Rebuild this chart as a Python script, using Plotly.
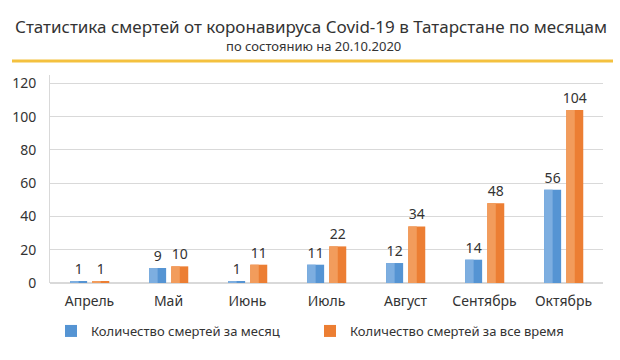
import plotly.graph_objects as go

months = ["Апрель", "Май", "Июнь", "Июль", "Август", "Сентябрь", "Октябрь"]
monthly = [1, 9, 1, 11, 12, 14, 56]
total = [1, 10, 11, 22, 34, 48, 104]
y_ticks = [0, 20, 40, 60, 80, 100, 120]

name_monthly = "Количество смертей за месяц"
name_total = "Количество смертей за все время"

FONT = "Noto Sans"
W = 0.215
half = W / 2

fig = go.Figure()
# full bars (dark) with labels
fig.add_trace(go.Bar(x=months, y=monthly, name=name_monthly, width=W, offset=-0.245,
                     marker=dict(color="#5594D3", line=dict(width=0)),
                     text=monthly, textposition="outside", cliponaxis=False, constraintext="none",
                     textfont=dict(size=14, color="#333333", family=FONT)))
fig.add_trace(go.Bar(x=months, y=total, name=name_total, width=W, offset=0.035,
                     marker=dict(color="#EC7E33", line=dict(width=0)),
                     text=total, textposition="outside", cliponaxis=False, constraintext="none",
                     textfont=dict(size=14, color="#333333", family=FONT)))
# lighter left halves
fig.add_trace(go.Bar(x=months, y=monthly, width=half, offset=-0.245, showlegend=False,
                     marker=dict(color="#7DAEE0", line=dict(width=0)), hoverinfo="skip"))
fig.add_trace(go.Bar(x=months, y=total, width=half, offset=0.035, showlegend=False,
                     marker=dict(color="#F29C5C", line=dict(width=0)), hoverinfo="skip"))

L, R, T, B = 50, 17, 75, 77
ph = 360 - T - B
pw = 620 - L - R

def py(px):
    return (360 - B - px) / ph

def pxx(px):
    return (px - L) / pw

fig.add_shape(type="line", xref="paper", yref="paper", x0=pxx(12), x1=pxx(613),
              y0=py(61), y1=py(61), line=dict(color="#F4C13F", width=3))
fig.add_annotation(text="Статистика смертей от коронавируса Covid-19 в Татарстане по месяцам",
                   xref="paper", yref="paper", x=pxx(311), y=py(27), showarrow=False,
                   xanchor="center", yanchor="middle",
                   font=dict(size=17, color="#333333", family=FONT))
fig.add_annotation(text="по состоянию на 20.10.2020",
                   xref="paper", yref="paper", x=pxx(313), y=py(46), showarrow=False,
                   xanchor="center", yanchor="middle",
                   font=dict(size=13, color="#333333", family=FONT))

fig.update_layout(
    width=620, height=360,
    margin=dict(l=L, r=R, t=T, b=B, autoexpand=False),
    barmode="overlay",
    plot_bgcolor="white", paper_bgcolor="white",
    font=dict(family=FONT, color="#333333"),
    showlegend=True,
    legend=dict(orientation="h", x=pxx(51), y=py(331), xanchor="left", yanchor="middle",
                font=dict(size=13, color="#333333", family=FONT),
                itemwidth=30, tracegroupgap=0, entrywidthmode="pixels", entrywidth=214),
)
fig.update_xaxes(showgrid=False, showline=False, ticks="", ticklabelstandoff=8,
                 tickfont=dict(size=14, color="#333333", family=FONT))
fig.update_yaxes(range=[0, 125], tickvals=y_ticks, showgrid=True, gridcolor="#D9D9D9",
                 gridwidth=1, zeroline=True, zerolinecolor="#D9D9D9", showline=True,
                 linecolor="#D9D9D9", ticks="", ticklabelstandoff=10,
                 tickfont=dict(size=14, color="#333333", family=FONT))

fig.write_html("out.html", config={"displayModeBar": False},
               post_script="document.body.style.margin='0';")
